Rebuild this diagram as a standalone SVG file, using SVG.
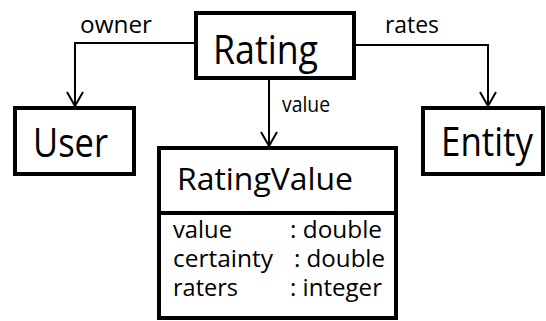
<svg xmlns="http://www.w3.org/2000/svg" width="546" height="321" viewBox="0 0 546 321">
<style>
.box{fill:#fff;stroke:#000;stroke-width:4}
.conn{fill:none;stroke:#000;stroke-width:2}
text{font-family:"Open Sans","Liberation Sans",sans-serif;fill:#000}
.lbl{font-size:24px}
.big{font-size:41px}
.attr{font-size:23px}
</style>
<defs>
<marker id="open" markerUnits="userSpaceOnUse" markerWidth="20" markerHeight="20" viewBox="-16 -10 18 20" refX="0" refY="0" orient="auto">
<path d="M-14,-8 L0,0 L-14,8" fill="none" stroke="#000" stroke-width="2"/>
</marker>
</defs>
<g id="connectors">
<polyline class="conn" points="194,43 75,43 75,106" marker-end="url(#open)"/>
<polyline class="conn" points="356,45 488,45 488,106" marker-end="url(#open)"/>
<line class="conn" x1="269" y1="80" x2="269" y2="146" marker-end="url(#open)"/>
<text class="lbl" x="80" y="33" textLength="72" lengthAdjust="spacingAndGlyphs">owner</text>
<text class="lbl" x="385" y="33" textLength="54" lengthAdjust="spacingAndGlyphs">rates</text>
<text x="282" y="112" font-size="22" textLength="48" lengthAdjust="spacingAndGlyphs">value</text>
</g>
<g id="Rating">
<rect class="box" x="196" y="13" width="158" height="65"/>
<text class="big" x="213" y="64" textLength="105" lengthAdjust="spacingAndGlyphs">Rating</text>
</g>
<g id="User">
<rect class="box" x="15" y="108" width="119" height="66"/>
<text class="big" x="33" y="157" font-size="40" textLength="75" lengthAdjust="spacingAndGlyphs">User</text>
</g>
<g id="Entity">
<rect class="box" x="423" y="108" width="120" height="66"/>
<text class="big" x="441" y="156" font-size="38" textLength="92" lengthAdjust="spacingAndGlyphs">Entity</text>
</g>
<g id="RatingValue">
<rect class="box" x="159" y="148" width="237" height="170"/>
<line x1="159" y1="213" x2="396" y2="213" stroke="#000" stroke-width="4"/>
<text x="177" y="190" font-size="31" textLength="176" lengthAdjust="spacingAndGlyphs">RatingValue</text>
<text class="attr" x="173" y="238" textLength="59" lengthAdjust="spacingAndGlyphs">value</text>
<text class="attr" x="290" y="238" textLength="92" lengthAdjust="spacingAndGlyphs">: double</text>
<text class="attr" x="173" y="267" textLength="100" lengthAdjust="spacingAndGlyphs">certainty</text>
<text class="attr" x="294" y="267" textLength="91" lengthAdjust="spacingAndGlyphs">: double</text>
<text class="attr" x="173" y="296" textLength="65" lengthAdjust="spacingAndGlyphs">raters</text>
<text class="attr" x="290" y="296" textLength="92" lengthAdjust="spacingAndGlyphs">: integer</text>
</g>
</svg>
